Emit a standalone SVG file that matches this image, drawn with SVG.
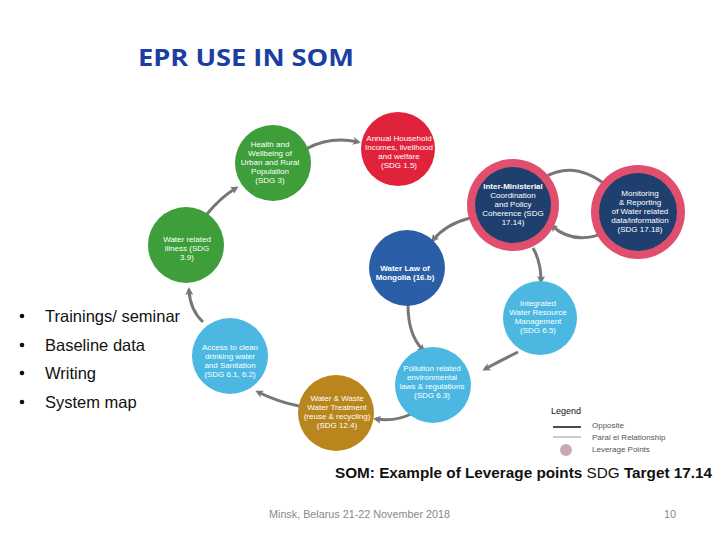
<svg xmlns="http://www.w3.org/2000/svg" width="720" height="540" viewBox="0 0 720 540">
<defs>
<marker id="ah" markerWidth="8" markerHeight="8" refX="5" refY="4" orient="auto" markerUnits="userSpaceOnUse" viewBox="0 0 8 8">
<path d="M0,0 L8,4 L0,8 L2,4 Z" fill="#777"/>
</marker>
</defs>
<style>
.nt{font-family:"Liberation Sans",Arial,sans-serif;font-size:8px;fill:#fff;text-anchor:middle}
.b{font-weight:bold}
.c{fill:none;stroke:#777;stroke-width:3;marker-end:url(#ah)}
.bul{font-family:"Liberation Sans",Arial,sans-serif;font-size:16.5px;fill:#111}
.green{fill:#3d9e3a}
.red{fill:#e1223b}
.ring{fill:#e0506e}
.navy{fill:#1f3f6e}
.blue{fill:#2a5ea6}
.lblue{fill:#4cb8e2}
.gold{fill:#b8861c}
.lg{font-family:"Liberation Sans",Arial,sans-serif;font-size:8px;fill:#555}
</style>
<rect width="720" height="540" fill="#fff"/>
<text x="246" y="66" text-anchor="middle" font-family="'Open Sans','Liberation Sans',sans-serif" font-weight="bold" font-size="23" fill="#1c3ea3" textLength="216" lengthAdjust="spacingAndGlyphs">EPR USE IN SOM</text>

<g id="connectors">
<path class="c" d="M207,214 Q220,198 236,188"/>
<path class="c" d="M306,149 Q330,136 358,142"/>
<path class="c" d="M470,218 Q446,224 433,240"/>
<path class="c" d="M545,177 Q575,160 607,186"/>
<path class="c" d="M606,232 Q575,246 552,226"/>
<path class="c" d="M533,248 Q541,262 541,281"/>
<path class="c" d="M408,305 Q408,335 423,350"/>
<path class="c" d="M518,352 Q502,360 485,369"/>
<path class="c" d="M413,413 Q396,422 376,419"/>
<path class="c" d="M299,406 Q278,402 258,392"/>
<path class="c" d="M203,322 Q190,310 189,290"/>
</g>

<g id="n-health"><circle cx="273" cy="163" r="38" class="green"/>
<text class="nt"><tspan x="270" y="147">Health and</tspan><tspan x="270" y="156">Wellbeing of</tspan><tspan x="270" y="165">Urban and Rural</tspan><tspan x="270" y="174">Population</tspan><tspan x="270" y="183">(SDG 3)</tspan></text></g>

<g id="n-annual"><circle cx="398" cy="149" r="37" class="red"/>
<text class="nt"><tspan x="399" y="141">Annual Household</tspan><tspan x="399" y="150">Incomes, livelihood</tspan><tspan x="399" y="159">and welfare</tspan><tspan x="399" y="168">(SDG 1.5)</tspan></text></g>

<g id="n-inter"><circle cx="513" cy="205" r="46" class="ring"/><circle cx="513" cy="205" r="38" class="navy"/>
<text class="nt"><tspan x="513" y="189" class="b">Inter-Ministerial</tspan><tspan x="513" y="198">Coordination</tspan><tspan x="513" y="207">and Policy</tspan><tspan x="513" y="216">Coherence (SDG</tspan><tspan x="513" y="225">17.14)</tspan></text></g>

<g id="n-monitor"><circle cx="638" cy="212" r="47" class="ring"/><circle cx="638" cy="212" r="39" class="navy"/>
<text class="nt"><tspan x="640" y="196">Monitoring</tspan><tspan x="640" y="205">&amp; Reporting</tspan><tspan x="640" y="214">of Water related</tspan><tspan x="640" y="223">data/information</tspan><tspan x="640" y="232">(SDG 17.18)</tspan></text></g>

<g id="n-illness"><circle cx="186" cy="245" r="38" class="green"/>
<text class="nt"><tspan x="187" y="242">Water related</tspan><tspan x="187" y="251">illness (SDG</tspan><tspan x="187" y="260">3.9)</tspan></text></g>

<g id="n-law"><circle cx="407" cy="268" r="38" class="blue"/>
<text class="nt b"><tspan x="405" y="271">Water Law of</tspan><tspan x="405" y="280">Mongolia (16.b)</tspan></text></g>

<g id="n-iwrm"><circle cx="540" cy="318" r="37" class="lblue"/>
<text class="nt"><tspan x="538" y="306">Integrated</tspan><tspan x="538" y="315">Water Resource</tspan><tspan x="538" y="324">Management</tspan><tspan x="538" y="333">(SDG 6.5)</tspan></text></g>

<g id="n-access"><circle cx="230" cy="356" r="38" class="lblue"/>
<text class="nt"><tspan x="230" y="350">Access to clean</tspan><tspan x="230" y="359">drinking water</tspan><tspan x="230" y="368">and Sanitation</tspan><tspan x="230" y="377">(SDG 6.1, 6.2)</tspan></text></g>

<g id="n-pollution"><circle cx="433" cy="385" r="38" class="lblue"/>
<text class="nt"><tspan x="432" y="371">Pollution related</tspan><tspan x="432" y="380">environmental</tspan><tspan x="432" y="389">laws &amp; regulations</tspan><tspan x="432" y="398">(SDG 6.3)</tspan></text></g>

<g id="n-waste"><circle cx="336" cy="413" r="38" class="gold"/>
<text class="nt"><tspan x="337" y="401">Water &amp; Waste</tspan><tspan x="337" y="410">Water Treatment</tspan><tspan x="337" y="419">(reuse &amp; recycling)</tspan><tspan x="337" y="428">(SDG 12.4)</tspan></text></g>

<g id="bullets">
<circle cx="22" cy="316" r="2.3" fill="#111"/><text class="bul" x="45" y="322">Trainings/ seminar</text>
<circle cx="22" cy="345" r="2.3" fill="#111"/><text class="bul" x="45" y="351">Baseline data</text>
<circle cx="22" cy="373" r="2.3" fill="#111"/><text class="bul" x="45" y="379">Writing</text>
<circle cx="22" cy="402" r="2.3" fill="#111"/><text class="bul" x="45" y="408">System map</text>
</g>

<g id="legend">
<text x="551" y="414" font-family="'Liberation Sans',Arial,sans-serif" font-size="9" fill="#111">Legend</text>
<line x1="553" y1="427" x2="581" y2="427" stroke="#111" stroke-width="1.5"/>
<line x1="553" y1="437" x2="581" y2="437" stroke="#bbb" stroke-width="1.5"/>
<circle cx="566" cy="450" r="6" fill="#c8a9b4"/>
<text class="lg" x="592" y="428">Opposite</text>
<text class="lg" x="592" y="440">Paral el Relationship</text>
<text class="lg" x="592" y="452">Leverage Points</text>
</g>

<text x="335" y="478" font-family="'Liberation Sans',Arial,sans-serif" font-size="14" fill="#111" textLength="377" lengthAdjust="spacingAndGlyphs"><tspan font-weight="bold">SOM: Example of Leverage points</tspan> SDG <tspan font-weight="bold">Target 17.14</tspan></text>
<text x="269" y="518" font-family="'Liberation Sans',Arial,sans-serif" font-size="11" fill="#888" textLength="181" lengthAdjust="spacingAndGlyphs">Minsk, Belarus 21-22 November 2018</text>
<text x="664" y="518" font-family="'Liberation Sans',Arial,sans-serif" font-size="11" fill="#888">10</text>
</svg>
